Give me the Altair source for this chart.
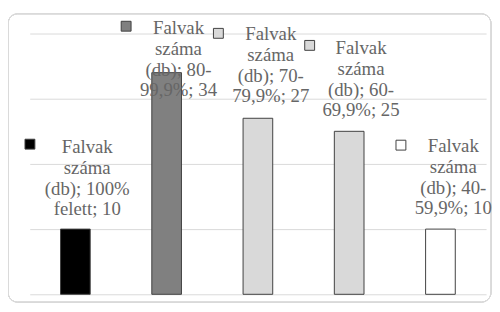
import altair as alt
import pandas as pd

series_name = "Falvak száma (db)"
categories = ["100% felett", "80-99,9%", "70-79,9%", "60-69,9%", "40-59,9%"]
values = [10, 34, 27, 25, 10]
label_lines = [
    ["Falvak", "száma", "(db); 100%", "felett; 10"],
    ["Falvak", "száma", "(db); 80-", "99,9%; 34"],
    ["Falvak", "száma", "(db); 70-", "79,9%; 27"],
    ["Falvak", "száma", "(db); 60-", "69,9%; 25"],
    ["Falvak", "száma", "(db); 40-", "59,9%; 10"],
]
y_ticks = [0, 10, 20, 30, 40]

# styling / layout (not data)
fills = ["#000000", "#808080", "#d9d9d9", "#d9d9d9", "#ffffff"]
text_offsets = [(12, -77), (12, -39), (13, -79), (12, -78), (13, -78)]
key_offsets = [(-46, -86), (-41, -47), (-40, -86), (-40, -87), (-40, -85)]
FONT = "'Liberation Serif', 'Times New Roman', 'DejaVu Serif', serif"

df = pd.DataFrame({"cat": categories, "val": values, "fill": fills})

x_enc = alt.X("cat:N", sort=categories, axis=None,
              scale=alt.Scale(paddingInner=0.675, paddingOuter=0.3375))
y_enc = alt.Y("val:Q", scale=alt.Scale(domain=[0, 40], nice=False),
              axis=alt.Axis(values=y_ticks, labels=False, ticks=False, domain=False,
                            grid=True, gridColor="#d9d9d9", gridWidth=1, title=None))

frame = alt.Chart(df).mark_rect(cornerRadius=10, fill="white", fillOpacity=0,
                                stroke="#d9d9d9", strokeWidth=1).encode(
    x=alt.value(-22), x2=alt.value(467), y=alt.value(-20), y2=alt.value(272)
)

bars = alt.Chart(df).mark_bar(stroke="#404040", strokeWidth=1).encode(
    x=x_enc, y=y_enc,
    fill=alt.Fill("fill:N", scale=None),
)

layers = [frame, bars]
for i, cat in enumerate(categories):
    sub = df[df["cat"] == cat]
    tdx, tdy = text_offsets[i]
    kdx, kdy = key_offsets[i]
    txt = alt.Chart(sub).mark_text(
        text=label_lines[i], font=FONT, fontSize=19, color="#666666",
        align="center", baseline="alphabetic", lineHeight=21, dx=tdx, dy=tdy,
    ).encode(x=alt.X("cat:N", sort=categories), y="val:Q")
    key = alt.Chart(sub).mark_point(
        shape="square", filled=True, size=100, fill=fills[i], stroke="#404040",
        strokeWidth=1, opacity=1, xOffset=kdx, yOffset=kdy,
    ).encode(x=alt.X("cat:N", sort=categories), y="val:Q")
    layers += [txt, key]

chart = alt.layer(*layers).properties(
    width=462, height=264,
    autosize=alt.AutoSizeParams(type="none"),
    padding={"left": 22, "top": 24, "right": 6, "bottom": 10},
).configure_view(stroke=None)

chart.save("out.html", embed_options={"renderer": "svg", "actions": False})
